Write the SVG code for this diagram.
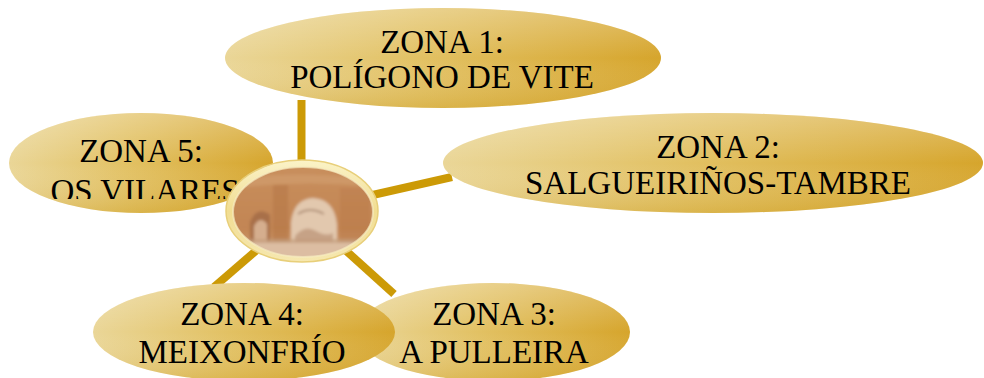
<svg xmlns="http://www.w3.org/2000/svg" width="984" height="378" viewBox="0 0 984 378">
<defs>
  <linearGradient id="gold" x1="0" y1="0" x2="1" y2="0">
    <stop offset="0" stop-color="#EAD697"/>
    <stop offset="0.45" stop-color="#E2C163"/>
    <stop offset="1" stop-color="#D6A52C"/>
  </linearGradient>
  <linearGradient id="shade" x1="0" y1="0" x2="0" y2="1">
    <stop offset="0" stop-color="#FFFFFF" stop-opacity="0.28"/>
    <stop offset="0.5" stop-color="#FFFFFF" stop-opacity="0"/>
    <stop offset="1" stop-color="#C08A00" stop-opacity="0.22"/>
  </linearGradient>
  <linearGradient id="rim" x1="0" y1="0" x2="0" y2="1">
    <stop offset="0" stop-color="#FBF3C8"/>
    <stop offset="0.5" stop-color="#F1DD92"/>
    <stop offset="1" stop-color="#F6E8B0"/>
  </linearGradient>
  <linearGradient id="wall" x1="0" y1="0" x2="0" y2="1">
    <stop offset="0" stop-color="#C98F5E"/>
    <stop offset="0.65" stop-color="#C28553"/>
    <stop offset="1" stop-color="#D2A77F"/>
  </linearGradient>
  <filter id="soft" x="-10%" y="-10%" width="120%" height="120%">
    <feGaussianBlur stdDeviation="1.6"/>
  </filter>
  <clipPath id="photo">
    <ellipse cx="303" cy="212" rx="70" ry="45"/>
  </clipPath>
  <clipPath id="clip5">
    <rect x="0" y="0" width="300" height="199"/>
  </clipPath>
</defs>
<style>
  .zone { fill: url(#gold); }
  .zshade { fill: url(#shade); }
  .lbl { font-family: "Liberation Serif", "Times New Roman", serif; font-size: 33px; fill: #000; text-anchor: middle; }
  .conn { stroke: #CC9A06; stroke-width: 8; fill: none; stroke-linecap: butt; }
</style>

<g id="connectors">
  <line class="conn" x1="301.5" y1="100" x2="301.5" y2="175"/>
  <line class="conn" x1="302" y1="211" x2="452" y2="177"/>
  <line class="conn" x1="302" y1="211" x2="394" y2="294"/>
  <line class="conn" x1="302" y1="211" x2="214" y2="287"/>
</g>

<g id="zona1">
  <ellipse class="zone" cx="443" cy="58" rx="218" ry="50"/>
  <ellipse class="zshade" cx="443" cy="58" rx="218" ry="50"/>
  <text class="lbl" x="442" y="53">ZONA 1:</text>
  <text class="lbl" x="442" y="88">POLÍGONO DE VITE</text>
</g>

<g id="zona2">
  <ellipse class="zone" cx="713" cy="163" rx="270" ry="50"/>
  <ellipse class="zshade" cx="713" cy="163" rx="270" ry="50"/>
  <text class="lbl" x="718" y="158">ZONA 2:</text>
  <text class="lbl" x="718" y="194">SALGUEIRIÑOS-TAMBRE</text>
</g>

<g id="zona3">
  <ellipse class="zone" cx="493" cy="332" rx="137" ry="49"/>
  <ellipse class="zshade" cx="493" cy="332" rx="137" ry="49"/>
  <text class="lbl" x="494" y="325">ZONA 3:</text>
  <text class="lbl" x="494" y="363">A PULLEIRA</text>
</g>

<g id="zona4">
  <ellipse class="zone" cx="244" cy="332" rx="151" ry="49"/>
  <ellipse class="zshade" cx="244" cy="332" rx="151" ry="49"/>
  <text class="lbl" x="242" y="325">ZONA 4:</text>
  <text class="lbl" x="242" y="363">MEIXONFRÍO</text>
</g>

<g id="zona5">
  <ellipse class="zone" cx="141" cy="163" rx="132" ry="50"/>
  <ellipse class="zshade" cx="141" cy="163" rx="132" ry="50"/>
  <text class="lbl" x="141" y="162">ZONA 5:</text>
  <g clip-path="url(#clip5)">
    <text class="lbl" x="145" y="202">OS VILARES</text>
  </g>
</g>

<g id="centro">
  <ellipse cx="302" cy="211" rx="76" ry="51" fill="url(#rim)"/>
  <ellipse cx="302" cy="211" rx="76" ry="51" fill="none" stroke="#E8CF7A" stroke-width="1.5"/>
  <g clip-path="url(#photo)">
    <g filter="url(#soft)">
      <rect x="225" y="160" width="160" height="105" fill="url(#wall)"/>
      <path d="M235 180 Q280 170 370 178 L370 186 Q300 180 235 188 Z" fill="#D2A070" opacity="0.6"/>
      <path d="M250 244 L250 222 Q257 205 270 215 L270 244 Z" fill="#A8704A"/>
      <path d="M254 244 L254 226 Q260 215 267 224 L267 244 Z" fill="#D5AE8E"/>
      <path d="M291 244 L291 222 Q294 199 313 198 Q334 199 337 224 L337 244 Z" fill="#E2C8AE"/>
      <path d="M295 236 Q305 224 316 231 Q326 237 333 233 L333 244 L295 244 Z" fill="#C6A286"/>
      <path d="M298 214 Q310 206 324 214" stroke="#B09078" stroke-width="2" fill="none"/>
      <rect x="273" y="185" width="15" height="58" fill="#B57647" opacity="0.55"/>
      <rect x="340" y="188" width="30" height="54" fill="#BA7B4A" opacity="0.45"/>
      <rect x="225" y="242" width="160" height="25" fill="#DCBDA2"/>
      <rect x="225" y="239" width="160" height="4" fill="#C39C7C" opacity="0.7"/>
    </g>
  </g>
  <ellipse cx="303" cy="212" rx="70" ry="45" fill="none" stroke="#F6EBC0" stroke-width="2" opacity="0.7"/>
</g>
</svg>
